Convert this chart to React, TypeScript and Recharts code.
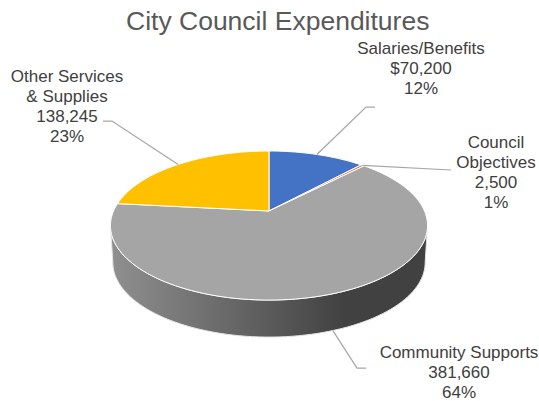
import React from "react";
import { PieChart, Pie, Cell } from "recharts";

const categories = ["Salaries/Benefits", "Council Objectives", "Community Supports", "Other Services & Supplies"];
const amounts = [70200, 2500, 381660, 138245];
const amountLabels = ["$70,200", "2,500", "381,660", "138,245"];
const percentLabels = ["12%", "1%", "64%", "23%"];
const labelLines = [
  ["Salaries/Benefits"],
  ["Council", "Objectives"],
  ["Community Supports"],
  ["Other Services", "& Supplies"],
];
const colors = ["#4472c4", "#ed7d31", "#a5a5a5", "#ffc000"];

const data = categories.map((name, i) => ({ name, value: amounts[i] }));

const WIDTH = 539;
const HEIGHT = 401;
const TILT = 71.7 / 155.5; // vertical squash of the pie
const PERSPECTIVE = 0.195; // far edge is smaller than near edge
const DEPTH = 37;
const BASE_SCALE = 0.985;

// label text placement and leader line elbow/end, per slice
const labelPos = [
  { x: 421, y: 54, elbow: [366, 107], end: [375, 107] },
  { x: 496, y: 148, elbow: [451, 170], end: [451, 170] },
  { x: 459, y: 358, elbow: [357, 368], end: [366, 368] },
  { x: 67, y: 82, elbow: [112, 121], end: [103, 121] },
];

// flat pie angle -> point on the tilted rim
const rimPoint = (cx: number, cy: number, r: number, deg: number, scale = 1, dy = 0) => {
  const a = (deg * Math.PI) / 180;
  const w = 1 + PERSPECTIVE * Math.sin(a);
  return [cx + (scale * r * Math.cos(a)) / w, cy + dy - (r * TILT * Math.sin(a)) / w];
};

const arcPoints = (cx: number, cy: number, r: number, from: number, to: number, scale = 1, dy = 0) => {
  const steps = Math.max(2, Math.ceil(Math.abs(to - from) / 2));
  const pts: number[][] = [];
  for (let i = 0; i <= steps; i++) {
    pts.push(rimPoint(cx, cy, r, from + ((to - from) * i) / steps, scale, dy));
  }
  return pts;
};

const toPath = (pts: number[][]) =>
  "M" + pts.map((p) => `${p[0].toFixed(2)},${p[1].toFixed(2)}`).join("L") + "Z";

// front of the rim runs from -11 to -169 degrees
const FRONT_FROM = -11;
const FRONT_TO = -169;

const Slice = (props: any) => {
  const { cx, cy, outerRadius, startAngle, endAngle, fill } = props;
  const hi = Math.min(startAngle, FRONT_FROM);
  const lo = Math.max(endAngle, FRONT_TO);
  const face = [[cx, cy], ...arcPoints(cx, cy, outerRadius, startAngle, endAngle)];
  let wall = null;
  if (hi > lo) {
    const top = arcPoints(cx, cy, outerRadius, hi, lo);
    const bottom = arcPoints(cx, cy, outerRadius, lo, hi, BASE_SCALE, DEPTH);
    wall = <path d={toPath([...top, ...bottom])} fill="url(#wallShade)" stroke="#e4e4e4" strokeWidth={1} />;
  }
  return (
    <g>
      {wall}
      <path d={toPath(face)} fill={fill} stroke="#ffffff" strokeWidth={1} strokeLinejoin="round" />
    </g>
  );
};

const renderLine = (props: any) => {
  const { cx, cy, outerRadius, midAngle, index } = props;
  const a = ((midAngle % 360) + 360) % 360;
  const front = a > 180 && a < 360;
  const start = front
    ? rimPoint(cx, cy, outerRadius, midAngle, BASE_SCALE, DEPTH)
    : rimPoint(cx, cy, outerRadius, midAngle);
  const { elbow, end } = labelPos[index];
  return (
    <polyline
      points={[start, elbow, end].map((p) => p.join(",")).join(" ")}
      fill="none"
      stroke="#a6a6a6"
      strokeWidth={1.25}
    />
  );
};

const renderLabel = (props: any) => {
  const { index } = props;
  const { x, y } = labelPos[index];
  const lines = [...labelLines[index], amountLabels[index], percentLabels[index]];
  return (
    <text x={x} y={y} textAnchor="middle" fontFamily="Liberation Sans" fontSize={17} fill="#404040">
      {lines.map((line, i) => (
        <tspan key={i} x={x} dy={i === 0 ? 0 : 20}>
          {line}
        </tspan>
      ))}
    </text>
  );
};

export default function App() {
  return (
    <div style={{ position: "absolute", left: 0, top: 0, width: WIDTH, height: HEIGHT, background: "#fff" }}>
      <div
        style={{
          position: "absolute",
          left: 126,
          top: 6,
          whiteSpace: "nowrap",
          fontFamily: "Liberation Sans",
          fontSize: 26.5,
          color: "#595959",
        }}
      >
        City Council Expenditures
      </div>
      <PieChart width={WIDTH} height={HEIGHT} margin={{ top: 0, right: 0, bottom: 0, left: 0 }}>
        <defs>
          <linearGradient id="wallShade" gradientUnits="userSpaceOnUse" x1={110} y1={0} x2={345} y2={0}>
            <stop offset="0%" stopColor="#909090" />
            <stop offset="100%" stopColor="#414141" />
          </linearGradient>
        </defs>
        <Pie
          data={data}
          dataKey="value"
          nameKey="name"
          cx={269}
          cy={211}
          innerRadius={0}
          outerRadius={155.5}
          startAngle={90}
          endAngle={-270}
          stroke="none"
          shape={Slice}
          label={renderLabel}
          labelLine={renderLine}
          isAnimationActive={false}
        >
          {data.map((d, i) => (
            <Cell key={d.name} fill={colors[i]} />
          ))}
        </Pie>
      </PieChart>
    </div>
  );
}
